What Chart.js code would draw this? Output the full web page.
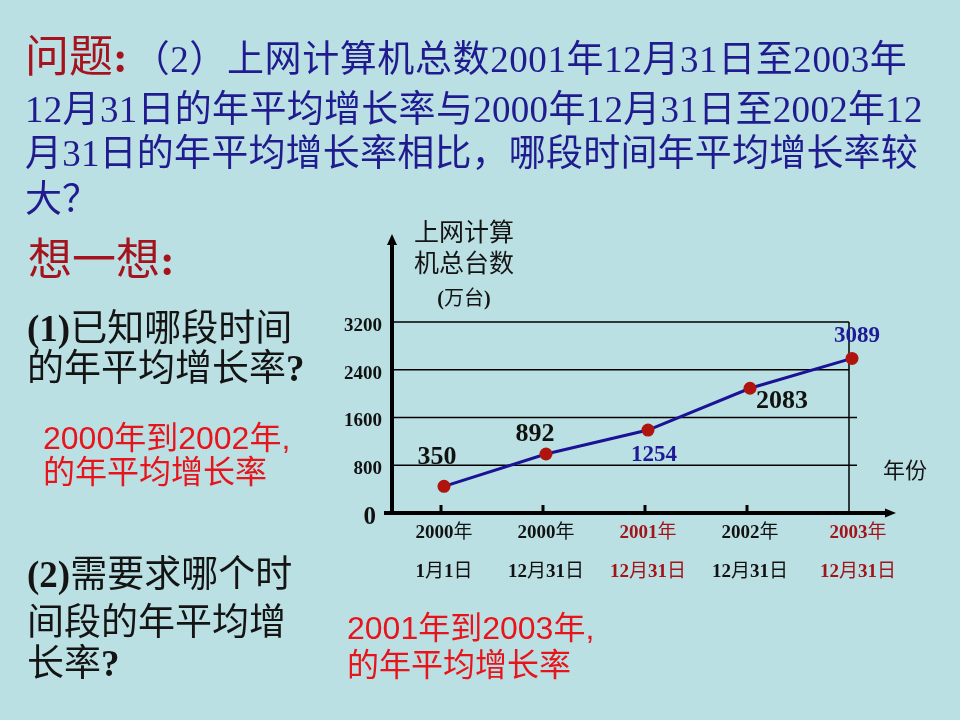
<!DOCTYPE html>
<html lang="zh-CN">
<head>
<meta charset="UTF-8" />
<title>上网计算机总数</title>
<script src="https://cdn.jsdelivr.net/npm/chart.js"></script>
<style>
  body { margin: 0; }
  #slide { position: relative; width: 960px; height: 720px; background: #bbe0e3; overflow: hidden;
           font-family: "Liberation Serif", "Noto Sans CJK SC", serif; }
  #slide canvas { position: absolute; left: 0; top: 0; }
  .t { position: absolute; white-space: nowrap; line-height: 1; }
  .b { font-weight: bold; }
  .navy { color: #201c90; }
  .dred { color: #a5141e; }
  .blk { color: #141414; }
  .red { color: #e8141c; font-family: "Liberation Sans", "Noto Sans CJK SC", sans-serif; }
</style>
</head>
<body>
<div id="slide">
  <canvas id="grafik" width="960" height="720"></canvas>

  <!-- 问题 -->
  <div class="t navy" style="left:25px; top:36px; font-size:37px;"><span class="dred" style="font-size:44px;">问题<span class="b">:</span></span><span style="margin-left:5px; letter-spacing:0.6px;">（2）上网计算机总数2001年12月31日至2003年</span></div>
  <div class="t navy" style="left:25px; top:91px; font-size:37px; letter-spacing:0.3px;">12月31日的年平均增长率与2000年12月31日至2002年12</div>
  <div class="t navy" style="left:25px; top:135px; font-size:37px; letter-spacing:0.2px;">月31日的年平均增长率相比，哪段时间年平均增长率较</div>
  <div class="t navy" style="left:25px; top:181px; font-size:37px;">大？</div>

  <!-- 想一想 -->
  <div class="t dred" style="left:28px; top:239px; font-size:44px;">想一想<span class="b">:</span></div>
  <div class="t blk" style="left:27px; top:310px; font-size:37px;"><span class="b">(1)</span>已知哪段时间</div>
  <div class="t blk" style="left:27px; top:350px; font-size:37px;">的年平均增长率<span class="b">?</span></div>
  <div class="t red" style="left:43px; top:422px; font-size:32px;">2000年到2002年,</div>
  <div class="t red" style="left:43px; top:456px; font-size:32px;">的年平均增长率</div>

  <div class="t blk" style="left:27px; top:556px; font-size:37px;"><span class="b">(2)</span>需要求哪个时</div>
  <div class="t blk" style="left:27px; top:604px; font-size:37px;">间段的年平均增</div>
  <div class="t blk" style="left:27px; top:645px; font-size:37px;">长率<span class="b">?</span></div>
  <div class="t red" style="left:347px; top:612px; font-size:32px;">2001年到2003年,</div>
  <div class="t red" style="left:347px; top:649px; font-size:32px;">的年平均增长率</div>

  <!-- 坐标轴标题 -->
  <div class="t blk" style="left:404px; width:120px; text-align:center; top:220px; font-size:25px;">上网计算</div>
  <div class="t blk" style="left:404px; width:120px; text-align:center; top:251px; font-size:25px;">机总台数</div>
  <div class="t blk" style="left:404px; width:120px; text-align:center; top:288px; font-size:20px;"><span class="b">(</span>万台<span class="b">)</span></div>
  <div class="t blk" style="left:883px; top:460px; font-size:22px;">年份</div>
</div>

<script>
    // 数据
    const years = ['2000年', '2000年', '2001年', '2002年', '2003年'];
    const days = ['1月1日', '12月31日', '12月31日', '12月31日', '12月31日'];
    const totals = [350, 892, 1254, 2083, 3089];        // 标注的数值（万台）
    const drawnHeights = [447, 988, 1390, 2090, 2590];  // 原图中点的实际高度（原图未按比例画）
    const yTicks = [0, 800, 1600, 2400, 3200];

    const navy = '#1c1296';
    const darkRed = '#a0141a';

    // 数字用粗体衬线，汉字用普通字体
    function drawMixed(ctx, str, cx, cy, size, color) {
        const runs = str.match(/\d+|\D+/g);
        const fontFor = r => /\d/.test(r) ? `bold ${size}px "Liberation Serif"` : `${size}px "Noto Sans CJK SC"`;
        let w = 0;
        runs.forEach(r => { ctx.font = fontFor(r); w += ctx.measureText(r).width; });
        let px = cx - w / 2;
        ctx.fillStyle = color;
        ctx.textAlign = 'left';
        ctx.textBaseline = 'alphabetic';
        runs.forEach(r => {
            ctx.font = fontFor(r);
            ctx.fillText(r, px, cy + size * 0.35);
            px += ctx.measureText(r).width;
        });
    }

    // 坐标轴、网格线、箭头
    const slideAxes = {
        id: 'slideAxes',
        beforeDatasetsDraw(chart) {
            const { ctx, scales: { x, y } } = chart;
            const x0 = chart.chartArea.left - 1;
            const yb = y.getPixelForValue(0);
            const lastX = x.getPixelForValue(years.length - 1);
            ctx.save();
            ctx.strokeStyle = '#000';
            ctx.fillStyle = '#000';

            ctx.lineWidth = 1.5;
            y.ticks.forEach(t => {
                if (t.value === 0) return;
                const py = y.getPixelForValue(t.value);
                ctx.beginPath();
                ctx.moveTo(x0, py);
                ctx.lineTo(t.value >= 2400 ? lastX - 3 : lastX + 5, py);
                ctx.stroke();
            });
            ctx.beginPath();
            ctx.moveTo(lastX - 3, y.getPixelForValue(3200));
            ctx.lineTo(lastX - 3, yb);
            ctx.stroke();

            // y 轴
            ctx.lineWidth = 4;
            ctx.beginPath();
            ctx.moveTo(x0, yb + 2);
            ctx.lineTo(x0, 243);
            ctx.stroke();
            ctx.beginPath();
            ctx.moveTo(x0, 234); ctx.lineTo(x0 - 5, 245); ctx.lineTo(x0 + 5, 245);
            ctx.closePath(); ctx.fill();

            // x 轴
            ctx.beginPath();
            ctx.moveTo(384, yb);
            ctx.lineTo(888, yb);
            ctx.stroke();
            ctx.beginPath();
            ctx.moveTo(896, yb); ctx.lineTo(885, yb - 4.5); ctx.lineTo(885, yb + 4.5);
            ctx.closePath(); ctx.fill();

            // 刻度
            ctx.lineWidth = 3;
            for (let i = 0; i < years.length - 1; i++) {
                const px = x.getPixelForValue(i) - 3;
                ctx.beginPath();
                ctx.moveTo(px, yb);
                ctx.lineTo(px, yb - 8);
                ctx.stroke();
            }
            ctx.restore();
        }
    };

    // 刻度文字和数据标签
    const labelPlacement = [
        { dx: -7, dy: -31, size: 26, color: '#111' },
        { dx: -11, dy: -22, size: 26, color: '#111' },
        { dx: 6, dy: 23, size: 23, color: '#1e1a96' },
        { dx: 32, dy: 11, size: 26, color: '#111' },
        { dx: 5, dy: -24, size: 23, color: '#1e1a96' }
    ];
    const slideLabels = {
        id: 'slideLabels',
        afterDraw(chart) {
            const { ctx, scales: { x, y } } = chart;
            ctx.save();

            ctx.fillStyle = '#111';
            ctx.textAlign = 'right';
            ctx.textBaseline = 'alphabetic';
            y.ticks.forEach(t => {
                const py = y.getPixelForValue(t.value) + 2.5;
                const size = t.value === 0 ? 25 : 19;
                ctx.font = `bold ${size}px "Liberation Serif"`;
                ctx.fillText(String(t.value), t.value === 0 ? 376 : 382, py + size * 0.33);
            });

            years.forEach((yr, i) => {
                const px = x.getPixelForValue(i) + (i === years.length - 1 ? 6 : 0);
                const color = (i === 2 || i === 4) ? darkRed : '#111';
                drawMixed(ctx, yr, px, 531, 19, color);
                drawMixed(ctx, days[i], px, 570, 19, color);
            });

            const meta = chart.getDatasetMeta(0);
            meta.data.forEach((pt, i) => {
                const p = labelPlacement[i];
                ctx.font = `bold ${p.size}px "Liberation Serif"`;
                ctx.fillStyle = p.color;
                ctx.textAlign = 'center';
                ctx.fillText(String(totals[i]), pt.x + p.dx, pt.y + p.dy + p.size * 0.33);
            });
            ctx.restore();
        }
    };

    const grafik = new Chart(document.getElementById('grafik').getContext('2d'), {
        type: 'line',
        data: {
            labels: years.map((yr, i) => yr + ' ' + days[i]),
            datasets: [{
                label: '上网计算机总台数(万台)',
                data: drawnHeights,
                borderColor: navy,
                borderWidth: 3,
                tension: 0,
                fill: false,
                pointRadius: 6.5,
                pointBackgroundColor: '#b0140f',
                pointBorderWidth: 0
            }]
        },
        options: {
            responsive: false,
            animation: false,
            devicePixelRatio: 1,
            layout: { padding: { left: 393, right: 57, top: 322, bottom: 207 } },
            plugins: { legend: { display: false }, tooltip: { enabled: false } },
            scales: {
                x: { type: 'category', offset: true, display: false },
                y: {
                    min: 0, max: 3200, display: false,
                    afterBuildTicks: scale => { scale.ticks = yTicks.map(v => ({ value: v })); }
                }
            }
        },
        plugins: [slideAxes, slideLabels]
    });
</script>
</body>
</html>
